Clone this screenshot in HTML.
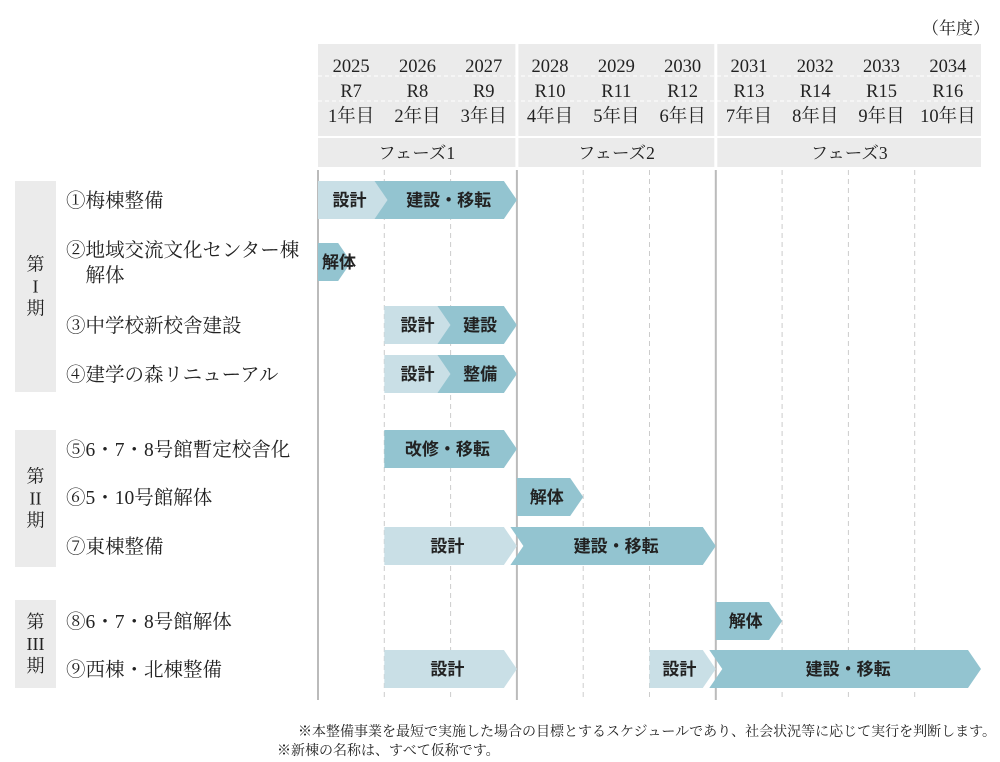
<!DOCTYPE html>
<html><head><meta charset="utf-8"><style>
body{margin:0;background:#fff}
svg{display:block}
.s{font-family:"Liberation Serif","Noto Serif CJK SC",serif;fill:#222}
.b{font-family:"Liberation Sans","Noto Sans CJK JP",sans-serif;font-weight:bold;fill:#222;font-size:17px}
</style></head><body>
<svg id="c" width="1000" height="762" xmlns="http://www.w3.org/2000/svg">
<text class="s" x="990" y="34" font-size="17" text-anchor="end">（年度）</text>
<g id="hdr"></g><g id="grid"></g><g id="side"></g><g id="bars"></g>
<text class="s" x="996" y="736" font-size="14" text-anchor="end">※本整備事業を最短で実施した場合の目標とするスケジュールであり、社会状況等に応じて実行を判断します。</text>
<text class="s" x="277" y="755" font-size="14">※新棟の名称は、すべて仮称です。</text>
</svg>
<script>
const years=["2025","2026","2027","2028","2029","2030","2031","2032","2033","2034"];
const reiwa=["R7","R8","R9","R10","R11","R12","R13","R14","R15","R16"];
const nth=["1年目","2年目","3年目","4年目","5年目","6年目","7年目","8年目","9年目","10年目"];
const phases=["フェーズ1","フェーズ2","フェーズ3"];
const phaseStart=[0,3,6];
const phaseEnd=[3,6,10];
const rowLabels=[["①梅棟整備"],["②地域交流文化センター棟","　解体"],["③中学校新校舎建設"],["④建学の森リニューアル"],["⑤6・7・8号館暫定校舎化"],["⑥5・10号館解体"],["⑦東棟整備"],["⑧6・7・8号館解体"],["⑨西棟・北棟整備"]];
const rowY=[200,262,325,374,449,497,546,621,669];
const taskRow=[0,0,1,2,2,3,3,4,5,6,6,7,8,8,8];
const taskStart=[0,0.95,0,1,1.9,1,1.9,1,3,1,3,6,1,5,6];
const taskEnd=[1.05,3,0.5,2.1,3,2.1,3,3,4,3,6,7,3,6,10];
const taskLabel=["設計","建設・移転","解体","設計","建設","設計","整備","改修・移転","解体","設計","建設・移転","解体","設計","設計","建設・移転"];
const taskType=["d","c","c","d","c","d","c","c","c","d","c","c","d","d","c"];
const groups=["第\nI\n期","第\nII\n期","第\nIII\n期"];
const groupTop=[181,430,600];
const groupBot=[392,567,688];

const NS="http://www.w3.org/2000/svg";
const x0=318,cw=66.3;
const X=v=>x0+v*cw;
function mk(p,t,a,txt){const e=document.createElementNS(NS,t);for(const k in a)e.setAttribute(k,a[k]);if(txt!==undefined)e.textContent=txt;document.getElementById(p).appendChild(e);return e;}
phases.forEach((p,i)=>{
 const a=X(phaseStart[i])+(i?1.5:0),b=X(phaseEnd[i])-(i<2?1.5:0);
 let r=mk('hdr','rect',{x:a,y:44,width:b-a,height:92,fill:'#ebebeb'});
 
 r=mk('hdr','rect',{x:a,y:138,width:b-a,height:29,fill:'#ebebeb'});
 
 const t=mk('hdr','text',{class:'s',x:(a+b)/2,y:159,'font-size':17.5,'text-anchor':'middle'},p);
 
});
[76,101].forEach(y=>{mk('hdr','line',{x1:x0,x2:X(10),y1:y,y2:y,stroke:'#fff','stroke-dasharray':'4 3'});});
years.forEach((yv,i)=>{
 const cx=X(i+0.5);
 [[yv,72],[reiwa[i],97],[nth[i],122]].forEach(([s,y])=>{
  const t=mk('hdr','text',{class:'s',x:cx,y:y,'font-size':18.5,'text-anchor':'middle'},s);
  
 });
});
for(let i=0;i<10;i++){
 const solid=phaseStart.includes(i);
 const l=mk('grid','line',{x1:X(i),x2:X(i),y1:170,y2:700,stroke:solid?'#bbb':'#ccc','stroke-width':solid?2:1,'stroke-dasharray':solid?'none':'5 4'});
 
}
groups.forEach((g,i)=>{
 const r=mk('side','rect',{x:15,y:groupTop[i],width:41,height:groupBot[i]-groupTop[i],fill:'#ebebeb'});
 
 const parts=g.split("\n");const mid=(groupTop[i]+groupBot[i])/2;
 parts.forEach((s,k)=>{
  const t=mk('side','text',{class:'s',x:35.5,y:mid+(k-1)*22+6,'font-size':18,'text-anchor':'middle'},s);
  
 });
});
rowLabels.forEach((ls,i)=>{
 ls.forEach((s,k)=>{
  const t=mk('side','text',{class:'s',x:66,y:rowY[i]+7+(k-(ls.length-1)/2)*25,'font-size':19.5},s);
  
 });
});
const h=38,tip=13;
taskLabel.forEach((lab,i)=>{
 const a=X(taskStart[i]),b=X(taskEnd[i]),cy=rowY[taskRow[i]],t=cy-h/2,bt=cy+h/2;
 const notch=taskStart[i]>0&&taskType[i]==='c'&&[0,2,3,6,8].includes(taskRow[i]);
 let pts=notch?`${a-tip/2},${t} ${b-tip},${t} ${b},${cy} ${b-tip},${bt} ${a-tip/2},${bt} ${a+tip/2},${cy}`:`${a},${t} ${b-tip},${t} ${b},${cy} ${b-tip},${bt} ${a},${bt}`;
 const p=mk('bars','polygon',{points:pts,fill:taskType[i]==='d'?'#c9dfe6':'#93c4d0'});
 
 const narrow=(b-a)<45;
 const tx=mk('bars','text',narrow?{class:'b',x:a+4,y:cy+6}:{class:'b',x:(a+b-tip/2)/2+(notch?3:0),y:cy+6,'text-anchor':'middle'},lab);
 
});
</script>
</body></html>
